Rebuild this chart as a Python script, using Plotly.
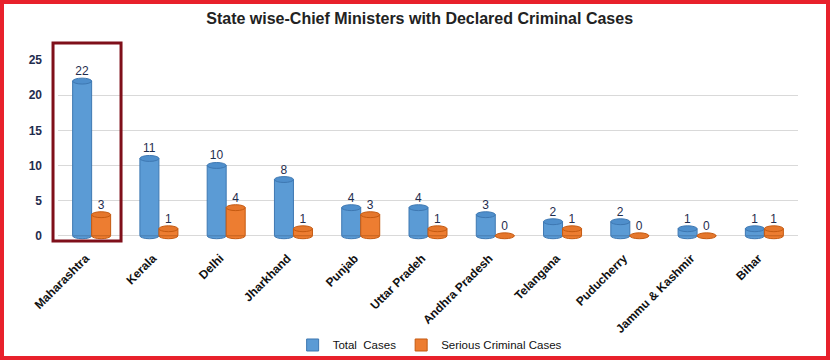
import plotly.graph_objects as go

states = ["Maharashtra", "Kerala", "Delhi", "Jharkhand", "Punjab", "Uttar Pradeh",
          "Andhra Pradesh", "Telangana", "Puducherry", "Jammu & Kashmir", "Bihar"]
total_cases = [22, 11, 10, 8, 4, 4, 3, 2, 2, 1, 1]
serious_cases = [3, 1, 4, 1, 3, 1, 0, 1, 0, 0, 1]
highlight_state = "Maharashtra"

BLUE = "#5B9BD5"
BLUE_DARK = "#3E78B2"
ORANGE = "#ED7D31"
ORANGE_DARK = "#C55A11"
LABEL = "#1F2D4E"
FONT = "Liberation Sans"

W, H = 831, 362
ML, MR, MT, MB = 58, 33, 60, 122
BARGAP = 0.435

fig = go.Figure()
fig.add_trace(go.Bar(
    x=states, y=total_cases, name="Total\u00a0\u00a0Cases",
    marker=dict(color=BLUE, line=dict(color=BLUE_DARK, width=1)),
    text=total_cases, textposition="outside", cliponaxis=False,
    textfont=dict(family=FONT, size=12, color=LABEL),
    outsidetextfont=dict(family=FONT, size=12, color=LABEL),
))
fig.add_trace(go.Bar(
    x=states, y=serious_cases, name="Serious Criminal Cases",
    marker=dict(color=ORANGE, line=dict(color=ORANGE_DARK, width=1)),
    text=serious_cases, textposition="outside", cliponaxis=False,
    textfont=dict(family=FONT, size=12, color=LABEL),
    outsidetextfont=dict(family=FONT, size=12, color=LABEL),
))

# cylinder caps and bases (ellipses) derived from data
bw = (1 - BARGAP) / 2
shapes = []
for i, (t, s) in enumerate(zip(total_cases, serious_cases)):
    for v, off, base_fill, top_fill, edge in (
        (t, -bw / 2, BLUE, "#4F8FCC", BLUE_DARK),
        (s, bw / 2, ORANGE, "#E5772C", ORANGE_DARK),
    ):
        cx = i + off
        if v > 0:
            shapes.append(dict(type="circle", xref="x", yref="y",
                               x0=cx - bw / 2, x1=cx + bw / 2, y0=-0.42, y1=0.42,
                               fillcolor=base_fill, line=dict(color=edge, width=1), layer="below"))
        shapes.append(dict(type="circle", xref="x", yref="y",
                           x0=cx - bw / 2, x1=cx + bw / 2, y0=v - 0.42, y1=v + 0.42,
                           fillcolor=top_fill, line=dict(color=edge, width=1), layer="above"))

# highlight box around first category
idx = states.index(highlight_state)
n = len(states)
pw, ph = W - ML - MR, H - MT - MB
shapes.append(dict(type="rect", xref="paper", yref="paper",
                   x0=(idx - 0.074) / n, x1=(idx + 0.937) / n, y0=-0.006, y1=1.094,
                   line=dict(color="#7F0F1A", width=3)))

# outer red frame
shapes.append(dict(type="rect", xref="paper", yref="paper",
                   x0=(2 - ML) / pw, x1=(W - 3 - ML) / pw,
                   y0=(H - MB - (H - 4)) / ph, y1=(H - MB - 2) / ph,
                   line=dict(color="#E8212B", width=4)))

fig.update_layout(
    width=W, height=H,
    margin=dict(l=ML, r=MR, t=MT, b=MB, autoexpand=False),
    paper_bgcolor="white", plot_bgcolor="white",
    barmode="group", bargap=BARGAP, bargroupgap=0,
    title=dict(text="<b>State wise-Chief Ministers with Declared Criminal Cases</b>",
               x=0.505, xanchor="center", xref="container",
               y=0.95, yanchor="middle", yref="container",
               font=dict(family=FONT, size=16, color="#222222")),
    legend=dict(orientation="h", x=0.517, xanchor="center", xref="container",
                y=0.047, yanchor="middle", yref="container",
                bgcolor="rgba(0,0,0,0)",
                font=dict(family=FONT, size=11.5, color="#111111"),
                itemwidth=30, traceorder="normal"),
    shapes=shapes,
    showlegend=True,
    hovermode=False,
)
fig.update_xaxes(
    tickangle=-45, tickfont=dict(family=FONT, size=12, color="#111111", weight="bold"),
    showgrid=False, showline=False, ticks="", ticklabelshift=-6, ticklabelstandoff=8,
    range=[-0.5, n - 0.5], automargin=False,
)
fig.update_yaxes(
    range=[-0.6, 25], tickvals=[0, 5, 10, 15, 20, 25],
    tickfont=dict(family=FONT, size=12, color=LABEL, weight="bold"),
    showgrid=True, gridcolor="#D9D9D9", gridwidth=1, zeroline=False,
    ticklabelstandoff=15, automargin=False,
)

fig.write_html("out.html", config={"displayModeBar": False},
               post_script="document.body.style.margin='0';document.body.style.padding='0';")
